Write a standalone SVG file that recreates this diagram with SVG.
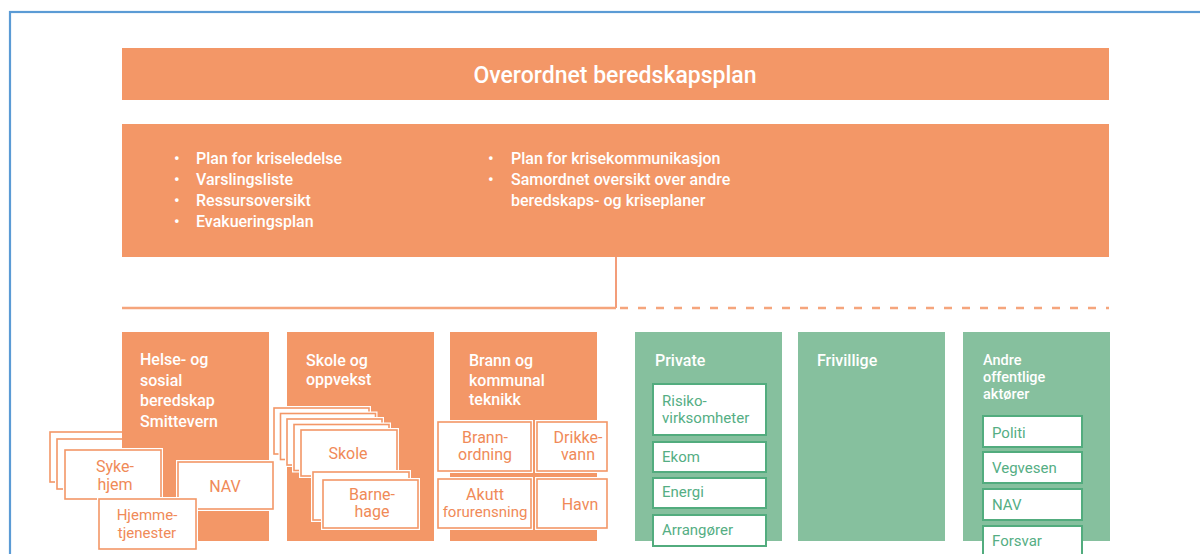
<svg xmlns="http://www.w3.org/2000/svg" width="1200" height="554" viewBox="0 0 1200 554">
<style>
.frame{fill:none;stroke:#5B9BD5;stroke-width:2.2}
.or{fill:#F39767}
.gr{fill:#86C09E}
.sw{fill:#fff}
.sb{fill:none;stroke:#F39767;stroke-width:1.6}
.gb{fill:#fff;stroke:#52AC7E;stroke-width:2}
.t{font-family:Roboto,"Liberation Sans",sans-serif;fill:#fff;font-weight:500;font-size:16px}
.b{font-size:16px}
.s{font-size:14.5px}
.big{font-size:23px;text-anchor:middle}
.ot{font-family:Roboto,"Liberation Sans",sans-serif;fill:#F08A58;font-size:16px;text-anchor:middle}
.gt{font-family:Roboto,"Liberation Sans",sans-serif;fill:#55AE84;font-size:15px}
.hl{stroke:#F5A57C;stroke-width:2.5;fill:none}
.vl{stroke:#F08558;stroke-width:1.6;fill:none}
</style>
<rect class="frame" x="10" y="12" width="1300" height="700"/>

<g id="overordnet">
<rect class="or" x="122" y="48" width="987" height="52"/>
<text class="t big" x="615" y="83">Overordnet beredskapsplan</text>
</g>

<g id="planer">
<rect class="or" x="122" y="124" width="987" height="133"/>
<g class="t b">
<text x="174" y="164">•</text><text x="196" y="164">Plan for kriseledelse</text>
<text x="174" y="185">•</text><text x="196" y="185">Varslingsliste</text>
<text x="174" y="206">•</text><text x="196" y="206">Ressursoversikt</text>
<text x="174" y="227">•</text><text x="196" y="227">Evakueringsplan</text>
<text x="488" y="164">•</text><text x="511" y="164">Plan for krisekommunikasjon</text>
<text x="488" y="185">•</text><text x="511" y="185">Samordnet oversikt over andre</text>
<text x="511" y="206">beredskaps- og kriseplaner</text>
</g>
</g>

<g id="connectors">
<line class="vl" x1="616" y1="257" x2="616" y2="308"/>
<line class="hl" x1="122" y1="308" x2="616" y2="308"/>
<line class="hl" x1="620" y1="308" x2="1109" y2="308" stroke-dasharray="8 10"/>
</g>

<g id="helse">
<rect class="sw" x="48" y="430" width="80" height="54"/><rect class="sb" x="50" y="432" width="80" height="50"/>
<rect class="sw" x="55" y="437" width="80" height="54"/><rect class="sb" x="57" y="439" width="80" height="50"/>
<rect class="or" x="122" y="332" width="147" height="209"/>
<text class="t" x="140" y="365">Helse- og</text>
<text class="t" x="140" y="386">sosial</text>
<text class="t" x="140" y="406">beredskap</text>
<text class="t" x="140" y="427">Smittevern</text>
<g id="sykehjem">
<rect class="sw" x="63" y="448" width="100" height="53"/><rect class="sb" x="65" y="450" width="96" height="49"/>
<text class="ot" x="115" y="472">Syke-</text><text class="ot" x="115" y="490">hjem</text>
</g>
<g id="nav-helse">
<rect class="sw" x="176" y="460" width="99" height="51"/><rect class="sb" x="178" y="462" width="95" height="47"/>
<text class="ot" x="225" y="492">NAV</text>
</g>
<g id="hjemmetjenester">
<rect class="sw" x="97" y="497" width="101" height="54"/><rect class="sb" x="99" y="499" width="97" height="50"/>
<text class="ot" x="147" y="520" style="font-size:15px">Hjemme-</text><text class="ot" x="147" y="538" style="font-size:15px">tjenester</text>
</g>
</g>

<g id="skole">
<rect class="or" x="287" y="332" width="147" height="209"/>
<text class="t" x="306" y="366">Skole og</text>
<text class="t" x="306" y="385">oppvekst</text>
<rect class="sw" x="272" y="406" width="99" height="50"/><rect class="sb" x="274" y="408" width="95" height="46"/>
<rect class="sw" x="278.5" y="411.5" width="99" height="50"/><rect class="sb" x="280.5" y="413.5" width="95" height="46"/>
<rect class="sw" x="285" y="417" width="99" height="50"/><rect class="sb" x="287" y="419" width="95" height="46"/>
<rect class="sw" x="292" y="422.5" width="99" height="50"/><rect class="sb" x="294" y="424.5" width="95" height="46"/>
<g id="skole-sub">
<rect class="sw" x="299" y="428" width="100" height="50"/><rect class="sb" x="301" y="430" width="96" height="46"/>
<text class="ot" x="348" y="459">Skole</text>
</g>
<rect class="sw" x="311" y="470" width="100" height="52"/><rect class="sb" x="313" y="472" width="96" height="48"/>
<g id="barnehage">
<rect class="sw" x="321" y="478" width="99" height="52"/><rect class="sb" x="323" y="480" width="95" height="48"/>
<text class="ot" x="372" y="500">Barne-</text><text class="ot" x="372" y="517">hage</text>
</g>
</g>

<g id="brann">
<rect class="or" x="450" y="332" width="147" height="209"/>
<text class="t" x="469" y="366">Brann og</text>
<text class="t" x="469" y="386">kommunal</text>
<text class="t" x="469" y="405">teknikk</text>
<g id="brannordning">
<rect class="sw" x="436" y="420" width="97" height="53"/><rect class="sb" x="438" y="422" width="93" height="49"/>
<text class="ot" x="485" y="443">Brann-</text><text class="ot" x="485" y="460">ordning</text>
</g>
<g id="drikkevann">
<rect class="sw" x="535" y="420" width="74" height="53"/><rect class="sb" x="537" y="422" width="70" height="49"/>
<text class="ot" x="578" y="443">Drikke-</text><text class="ot" x="578" y="460">vann</text>
</g>
<g id="akutt">
<rect class="sw" x="436" y="477" width="97" height="53"/><rect class="sb" x="438" y="479" width="93" height="49"/>
<text class="ot" x="485" y="500">Akutt</text><text class="ot" x="485" y="517" style="font-size:15px">forurensning</text>
</g>
<g id="havn">
<rect class="sw" x="535" y="477" width="74" height="53"/><rect class="sb" x="537" y="479" width="70" height="49"/>
<text class="ot" x="580" y="510">Havn</text>
</g>
</g>

<g id="private">
<rect class="gr" x="635" y="332" width="147" height="209"/>
<text class="t" x="655" y="366">Private</text>
<g id="risiko"><rect class="gb" x="653" y="384" width="113" height="51"/>
<text class="gt" x="662" y="406">Risiko-</text><text class="gt" x="662" y="423">virksomheter</text></g>
<g id="ekom"><rect class="gb" x="653" y="442" width="113" height="30"/><text class="gt" x="662" y="462">Ekom</text></g>
<g id="energi"><rect class="gb" x="653" y="478" width="113" height="30"/><text class="gt" x="662" y="497">Energi</text></g>
<g id="arrangorer"><rect class="gb" x="653" y="515" width="113" height="31"/><text class="gt" x="662" y="535">Arrangører</text></g>
</g>

<g id="frivillige">
<rect class="gr" x="798" y="332" width="147" height="209"/>
<text class="t" x="817" y="366">Frivillige</text>
</g>

<g id="andre">
<rect class="gr" x="963" y="332" width="147" height="209"/>
<text class="t s" x="983" y="365">Andre</text>
<text class="t s" x="983" y="382">offentlige</text>
<text class="t s" x="983" y="399">aktører</text>
<g id="politi"><rect class="gb" x="983" y="416" width="99" height="31"/><text class="gt" x="992" y="438">Politi</text></g>
<g id="vegvesen"><rect class="gb" x="983" y="452" width="99" height="31"/><text class="gt" x="992" y="473">Vegvesen</text></g>
<g id="nav-andre"><rect class="gb" x="983" y="489" width="99" height="31"/><text class="gt" x="992" y="510">NAV</text></g>
<g id="forsvar"><rect class="gb" x="983" y="526" width="99" height="34"/><text class="gt" x="992" y="546">Forsvar</text></g>
</g>
</svg>
